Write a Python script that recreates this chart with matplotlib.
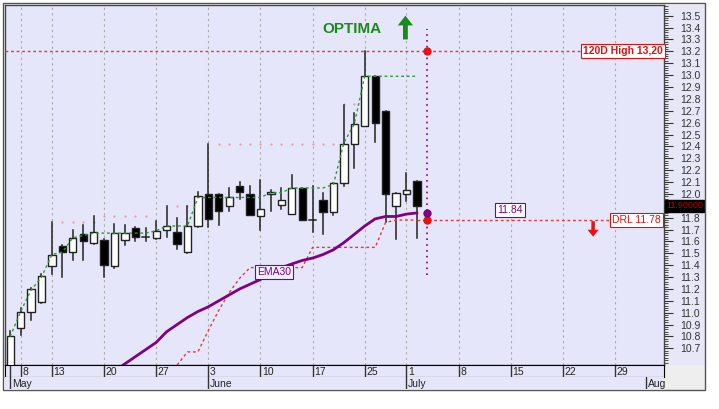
import numpy as np
import matplotlib
matplotlib.use('Agg')
import matplotlib.pyplot as plt
from matplotlib.patches import Rectangle

plt.rcParams['font.family'] = ['Liberation Sans', 'DejaVu Sans']

# Dữ liệu nến (chỉ số ngày giao dịch, bắt đầu từ 7/5)
opens = [10.55, 10.87, 11.01, 11.09, 11.39, 11.56, 11.51, 11.66, 11.59, 11.61,
         11.39, 11.61, 11.71, 11.64, 11.63, 11.70, 11.68, 11.51, 11.73, 12.00,
         12.00, 11.90, 12.07, 12.00, 11.81, 12.00, 11.91, 11.83, 12.05, 11.78,
         11.95, 11.85, 12.09, 12.42, 12.57, 12.99, 12.70, 11.90, 12.00, 12.11]
highs = [10.85, 11.04, 11.21, 11.33, 11.76, 11.57, 11.70, 11.74, 11.81, 11.62,
         11.75, 11.74, 11.72, 11.71, 11.77, 11.90, 11.80, 11.90, 12.02, 12.42,
         12.00, 12.05, 12.10, 12.07, 12.12, 12.03, 12.05, 12.16, 12.05, 12.07,
         12.01, 12.09, 12.75, 12.68, 13.20, 12.99, 12.70, 12.01, 12.18, 12.11]
lows = [10.45, 10.81, 10.94, 11.08, 11.33, 11.30, 11.44, 11.44, 11.58, 11.30,
        11.38, 11.57, 11.60, 11.60, 11.62, 11.64, 11.54, 11.50, 11.72, 11.72,
        11.74, 11.86, 11.96, 11.82, 11.70, 11.86, 11.87, 11.83, 11.78, 11.68,
        11.66, 11.82, 12.07, 12.22, 12.57, 12.44, 11.76, 11.62, 11.94, 11.63]
closes = [10.80, 11.01, 11.20, 11.31, 11.49, 11.51, 11.63, 11.60, 11.68, 11.40,
          11.67, 11.67, 11.64, 11.64, 11.69, 11.73, 11.58, 11.73, 11.98, 11.79,
          11.86, 11.97, 12.02, 11.82, 11.87, 12.02, 11.95, 12.05, 11.78, 11.78,
          11.85, 12.09, 12.42, 12.59, 12.99, 12.60, 12.00, 12.01, 12.03, 11.90]

# EMA30 (từ ngày 10)
ema_start = 10
ema30 = [10.51, 10.57, 10.63, 10.69, 10.75, 10.84, 10.90, 10.96, 11.01, 11.05,
         11.10, 11.15, 11.20, 11.24, 11.28, 11.33, 11.38, 11.41, 11.44, 11.46,
         11.49, 11.53, 11.59, 11.66, 11.73, 11.79, 11.81, 11.81, 11.83, 11.84]

# Đường trailing dưới (đỏ) từ ngày 16
trail_start = 16
trail_low = [10.56, 10.67, 10.67, 10.85, 11.02, 11.17, 11.29, 11.38, 11.38, 11.38,
             11.38, 11.38, 11.38, 11.55, 11.55, 11.55, 11.55, 11.55, 11.55, 11.55,
             11.76, 11.78, 11.78, 11.78]

# Đường giá đóng cửa cao nhất (xanh lá)
trail_high = [10.80, 11.01, 11.19, 11.30, 11.49, 11.51, 11.63, 11.65, 11.67, 11.67,
              11.67, 11.67, 11.67, 11.67, 11.69, 11.73, 11.73, 11.73, 11.97, 11.97,
              11.97, 11.97, 11.97, 11.97, 11.97, 12.01, 12.01, 12.05, 12.05, 12.05,
              12.05, 12.08, 12.43, 12.59, 12.99, 12.99, 12.99, 12.99, 12.99, 12.99]

# Chấm hồng phía trên
dot_idx = [5, 6, 7, 8, 9, 10, 11, 12, 13, 16, 17, 20, 21, 22, 23, 24, 25, 26, 27,
           28, 29, 30, 31, 32, 33]
dot_val = [11.76, 11.76, 11.76, 11.76, 11.81, 11.81, 11.81, 11.81, 11.81, 11.90,
           11.90, 12.42, 12.42, 12.42, 12.42, 12.42, 12.42, 12.42, 12.42, 12.42,
           12.42, 12.42, 12.42, 12.76, 12.76]

high_120d = 13.20
drl = 11.78
ema_last = 11.84
last_close = 11.90

# Nhãn trục x
day_ticks = [1, 4, 9, 14, 19, 24, 29, 34, 38, 43, 48, 53, 58]
day_labels = ['8', '13', '20', '27', '3', '10', '17', '25', '1', '8', '15', '22', '29']
month_ticks = [0, 19, 38, 61]
month_labels = ['May', 'June', 'July', 'Aug']

W, H = 719, 409
fig = plt.figure(figsize=(W / 100, H / 100), dpi=100, facecolor='white')

def fx(px):
    return px / W

def fy(py):
    return 1 - py / H

bg = '#E6E6FA'
L, R, T, B = 5, 664, 5, 365

# nền cột trục phải (vẽ dưới các trục)
fig.patches.append(Rectangle((fx(R), fy(B)), fx(705 - R), fy(T) - fy(B),
                             transform=fig.transFigure, fc='#E6E8F7', ec='none', zorder=-1))
fig.patches.append(Rectangle((fx(R), fy(390)), fx(705 - R), fy(B) - fy(390),
                             transform=fig.transFigure, fc='#EEEEEE', ec='none', zorder=-1))

ax = fig.add_axes([fx(L), fy(B), fx(R - L), fy(T) - fy(B)])
ax.set_facecolor(bg)
ax.set_xlim(-0.5, 62.7)
ax.set_ylim(10.56, 13.59)

# lưới dọc
for t in day_ticks:
    ax.axvline(t, color='#AAAAAA', lw=0.8, ls=(0, (2, 3)), zorder=0)

# nến
x = np.arange(len(closes))
for i in range(len(closes)):
    o, h, l, c = opens[i], highs[i], lows[i], closes[i]
    ax.plot([x[i], x[i]], [l, h], color='#222222', lw=1.1, zorder=2)
    bottom = min(o, c)
    height = abs(c - o)
    if height < 0.005:
        ax.plot([x[i] - 0.35, x[i] + 0.35], [c, c], color='#222222', lw=1.1, zorder=3)
        continue
    fc = 'black' if c < o else 'white'
    ax.add_patch(Rectangle((x[i] - 0.35, bottom), 0.7, height, fc=fc,
                           ec='#222222', lw=1.0, zorder=3))

# các đường chỉ báo
ax.plot(np.arange(len(trail_high)), trail_high, color='#2E9A2E', lw=1, ls=(0, (2, 2)), zorder=4)
ax.plot(np.arange(trail_start, trail_start + len(trail_low)), trail_low,
        color='#E03A3A', lw=1, ls=(0, (2, 2)), zorder=4)
ax.plot(np.arange(ema_start, ema_start + len(ema30)), ema30, color='#800080', lw=2, zorder=5)
ax.plot(dot_idx, dot_val, ls='none', marker='o', ms=1.6, mew=0, color='#E89AA6', zorder=1)

# đường tham chiếu
ax.plot([-0.5, 54.8], [high_120d, high_120d], color='#E03A3A', lw=1, ls=(0, (2, 2)), zorder=4)
ax.plot([39, 57.6], [drl, drl], color='#E03A3A', lw=1, ls=(0, (2, 2)), zorder=4)
ax.plot([40, 40], [11.32, 13.39], color='#800080', lw=1.2, ls=(0, (1, 2.5)), zorder=4)
ax.plot([40], [high_120d], 'o', color='#E81010', ms=5, zorder=6)
ax.plot([40], [drl], 'o', color='#E81010', ms=5, zorder=6)
ax.plot([40], [ema_last], 'o', color='#800080', ms=5, zorder=6)

# nhãn
ax.text(54.9, high_120d, '120D High 13,20', color='#E01010', fontsize=7.5, fontweight='bold',
        va='center', ha='left', zorder=7,
        bbox=dict(boxstyle='square,pad=0.2', fc='white', ec='#E01010', lw=0.8))
ax.text(57.7, drl, 'DRL 11.78', color='#E01010', fontsize=7.5,
        va='center', ha='left', zorder=7, clip_on=False,
        bbox=dict(boxstyle='square,pad=0.2', fc='white', ec='#E01010', lw=0.8))
ax.text(47.9, 11.865, '11.84', color='#800080', fontsize=7.5, va='center', ha='center', zorder=7,
        bbox=dict(boxstyle='square,pad=0.2', fc='white', ec='#800080', lw=0.8))
ax.text(25.3, 11.343, 'EMA30', color='#800080', fontsize=7.5, va='center', ha='center', zorder=7,
        bbox=dict(boxstyle='square,pad=0.15', fc='#F0F0FF', ec='#800080', lw=0.8))
ax.text(32.8, 13.39, 'OPTIMA', color='#1A8A1A', fontsize=11, fontweight='bold',
        va='center', ha='center', zorder=7)

# mũi tên
ax.annotate('', xy=(37.9, 13.50), xytext=(37.9, 13.30),
            arrowprops=dict(facecolor='#1A8A1A', edgecolor='none', width=3.5,
                            headwidth=11, headlength=7, shrink=0))
ax.annotate('', xy=(55.9, 11.64), xytext=(55.9, 11.77),
            arrowprops=dict(facecolor='#E81010', edgecolor='none', width=2.5,
                            headwidth=8, headlength=5, shrink=0))

# trục y bên phải (nhãn 11.9 bị hộp giá cuối che)
def fmt_price(v, pos):
    if abs(v - last_close) < 0.01:
        return ''
    return '%.1f' % v

ax.yaxis.tick_right()
ax.set_yticks(np.round(np.arange(10.7, 13.55, 0.1), 1))
ax.set_yticks(np.round(np.arange(10.58, 13.59, 0.02), 2), minor=True)
ax.yaxis.set_major_formatter(matplotlib.ticker.FuncFormatter(fmt_price))
ax.tick_params(axis='y', which='major', length=6.5, width=0.8, color='#333333',
               labelsize=7.5, labelcolor='#333333', pad=5.5)
ax.tick_params(axis='y', which='minor', length=3, width=0.6, color='#333333')
ax.set_xticks([])
for s in ax.spines.values():
    s.set_color('#444444')
    s.set_linewidth(1)

# giá cuối trên trục
ax.text(1.003, last_close, '11.90000', transform=ax.get_yaxis_transform(),
        color='#C00000', fontsize=6.5, va='center', ha='left', zorder=8, clip_on=False,
        bbox=dict(boxstyle='square,pad=0.15', fc='black', ec='black'))

# hàng ngày
ax_d = fig.add_axes([fx(L), fy(377), fx(R - L), fy(B) - fy(377)])
ax_d.set_facecolor(bg)
ax_d.set_xlim(ax.get_xlim())
ax_d.set_ylim(0, 1)
ax_d.set_xticks([])
ax_d.set_yticks([])
ax_d.axvline(0, color='#333333', lw=1)
for t, lab in zip(day_ticks, day_labels):
    ax_d.axvline(t, color='#333333', lw=1)
    ax_d.text(t + 0.15, 0.45, lab, fontsize=7.5, color='#222222', va='center', ha='left')

# hàng tháng
ax_m = fig.add_axes([fx(L), fy(389), fx(R - L), fy(377) - fy(389)])
ax_m.set_facecolor(bg)
ax_m.set_xlim(ax.get_xlim())
ax_m.set_ylim(0, 1)
ax_m.set_xticks([])
ax_m.set_yticks([])
for s in ax_m.spines.values():
    s.set_visible(False)
for t, lab in zip(month_ticks, month_labels):
    ax_m.axvline(t, color='#333333', lw=1)
    ax_m.text(t + 0.15, 0.45, lab, fontsize=7.5, color='#222222', va='center', ha='left')

# khung ngoài
fig.patches.append(Rectangle((fx(3), fy(390)), fx(702), fy(3) - fy(390),
                             transform=fig.transFigure, fc='none', ec='#555555', lw=1, zorder=10))

plt.savefig('out.png', dpi=100, facecolor='white')
